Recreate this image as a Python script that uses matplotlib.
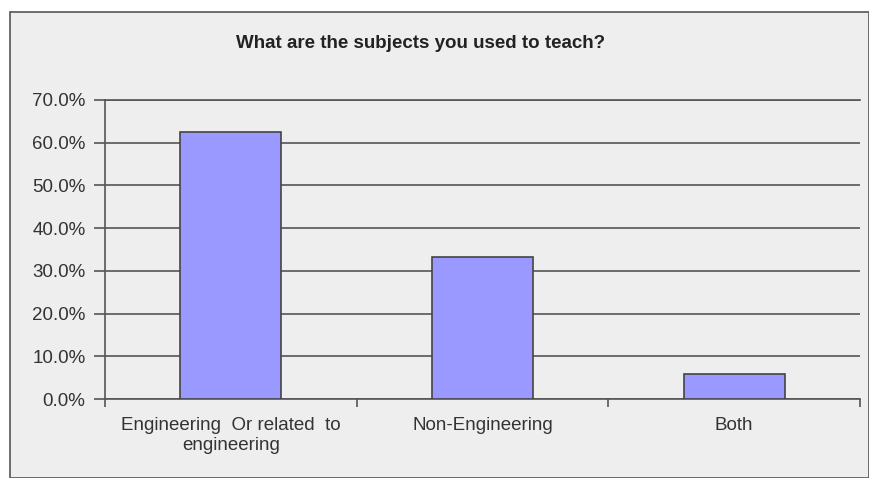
import matplotlib
matplotlib.use("Agg")
import matplotlib.pyplot as plt
from matplotlib.patches import Rectangle

# data (percent)
categories = ["Engineering  Or related  to\nengineering", "Non-Engineering", "Both"]
values = [62.5, 33.3, 5.9]
yticks = [0, 10, 20, 30, 40, 50, 60, 70]
title = "What are the subjects you used to teach?"

W, H = 869, 478
fig = plt.figure(figsize=(W / 100, H / 100), dpi=100)
fig.patch.set_facecolor("white")

# grey chart area with thin border
fig.patches.append(Rectangle((10 / W, 0), (W - 10) / W, (H - 12) / H,
                             transform=fig.transFigure, facecolor="#eeeeee",
                             edgecolor="#555555", linewidth=1.2, zorder=-5))

ax = fig.add_axes([105 / W, 1 - 399 / H, 755 / W, 299 / H])
ax.set_facecolor("none")
ax.set_zorder(2)

x = list(range(len(categories)))
ax.bar(x, values, width=0.4, color="#9999ff", edgecolor="#444444", linewidth=1.2, zorder=3)

ax.set_xlim(-0.5, len(categories) - 0.5)
ax.set_ylim(0, 70)
ax.set_yticks(yticks)
ax.set_yticklabels(["%.1f%%" % v for v in yticks])
ax.yaxis.grid(True, color="#555555", linewidth=1.2, zorder=1)
ax.set_axisbelow(True)

ax.set_xticks(x)
ax.set_xticklabels(categories, fontsize=13.5, color="#333333", linespacing=1.25,
                   family=["Liberation Sans", "DejaVu Sans"])
ax.set_xticks([i - 0.5 for i in range(len(categories) + 1)], minor=True)
ax.tick_params(axis="x", which="major", length=0, pad=13)
ax.tick_params(axis="x", which="minor", length=6, width=1.2, color="#555555")
ax.tick_params(axis="y", length=8, width=1.2, color="#555555", labelsize=13.5, labelcolor="#333333", pad=6)
for lab in ax.get_yticklabels():
    lab.set_family(["Liberation Sans", "DejaVu Sans"])

ax.spines["right"].set_visible(False)
for s in ["left", "bottom", "top"]:
    ax.spines[s].set_color("#555555")
    ax.spines[s].set_linewidth(1.2)

fig.text(421 / W, 1 - 44 / H, title, ha="center", va="center", fontsize=13.5,
         fontweight="bold", color="#222222",
         family=["Liberation Sans Narrow", "Liberation Sans", "DejaVu Sans"])

fig.savefig("out.png", dpi=100)
